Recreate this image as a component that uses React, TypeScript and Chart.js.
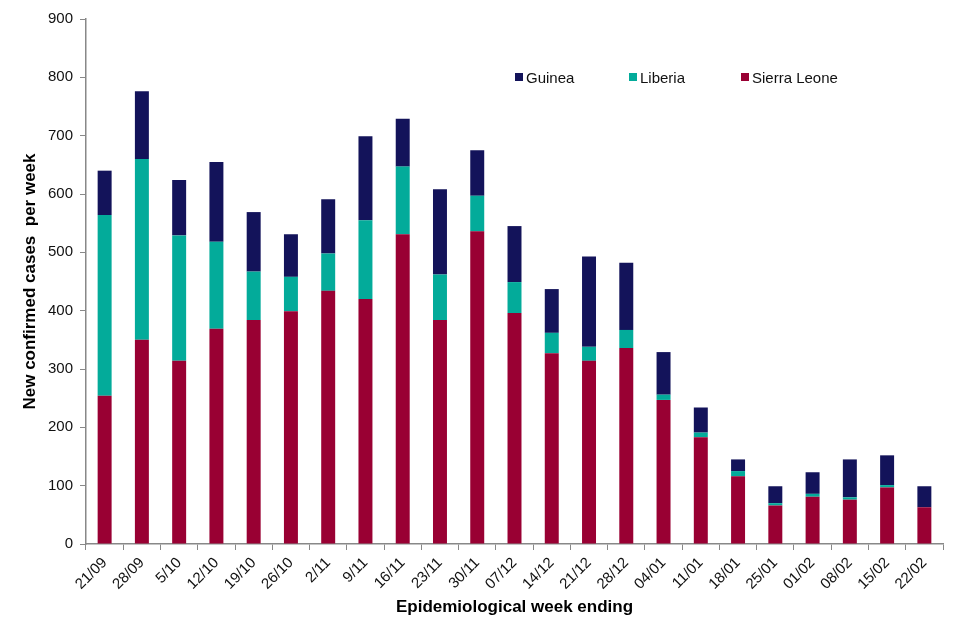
import React, { useEffect, useRef } from "react";
import { Chart, registerables } from "chart.js";

Chart.register(...registerables);

const weeks = [
  "21/09", "28/09", "5/10", "12/10", "19/10", "26/10", "2/11", "9/11", "16/11", "23/11", "30/11",
  "07/12", "14/12", "21/12", "28/12", "04/01", "11/01", "18/01", "25/01", "01/02", "08/02", "15/02", "22/02",
];
const sierraLeone = [254, 350, 314, 369, 384, 399, 434, 420, 531, 384, 536, 396, 327, 314, 336, 247, 183, 116, 66, 81, 76, 97, 63];
const liberia = [310, 310, 215, 149, 83, 59, 64, 135, 116, 78, 61, 53, 35, 24, 31, 9, 8, 9, 4, 5, 4, 4, 0];
const guinea = [76, 116, 95, 137, 102, 73, 93, 144, 82, 146, 78, 96, 75, 155, 115, 73, 43, 20, 29, 37, 65, 51, 36];
const yTicks = [0, 100, 200, 300, 400, 500, 600, 700, 800, 900];

const COL_SL = "#990033";
const COL_LIB = "#03AB9A";
const COL_GUI = "#13135A";
const FONT = "'Liberation Sans', Arial, sans-serif";

const legendItems = [
  { label: "Guinea", color: COL_GUI, left: 515 },
  { label: "Liberia", color: COL_LIB, left: 629 },
  { label: "Sierra Leone", color: COL_SL, left: 741 },
];

export default function App() {
  const ref = useRef<HTMLCanvasElement>(null);
  useEffect(() => {
    if (!ref.current) return;
    const bp = 0.375;
    const chart = new Chart(ref.current, {
      type: "bar",
      data: {
        labels: weeks,
        datasets: [
          { label: "Sierra Leone", data: sierraLeone, backgroundColor: COL_SL, barPercentage: bp, categoryPercentage: 1 },
          { label: "Liberia", data: liberia, backgroundColor: COL_LIB, barPercentage: bp, categoryPercentage: 1 },
          { label: "Guinea", data: guinea, backgroundColor: COL_GUI, barPercentage: bp, categoryPercentage: 1 },
        ],
      },
      options: {
        animation: false,
        responsive: false,
        maintainAspectRatio: false,
        layout: { padding: { top: 19, right: 17, left: 0, bottom: 22 } },
        plugins: { legend: { display: false }, tooltip: { enabled: false } },
        scales: {
          x: {
            stacked: true,
            afterFit: (s: any) => { s.height = 74; },
            grid: { drawOnChartArea: false, drawTicks: true, tickLength: 6, color: "#888" },
            border: { display: true, color: "#888", width: 1.5 },
            ticks: {
              maxRotation: 45, minRotation: 45, autoSkip: false, padding: 4,
              color: "#111", font: { family: FONT, size: 15 },
            },
            title: {
              display: true, text: "Epidemiological week ending", color: "#000",
              font: { family: FONT, size: 17, weight: "bold" }, padding: { top: 0, bottom: 0 },
            },
          },
          y: {
            stacked: true,
            min: 0, max: 900,
            afterFit: (s: any) => { s.width = 86; },
            afterBuildTicks: (s: any) => { s.ticks = yTicks.map((v) => ({ value: v })); },
            grid: { drawOnChartArea: false, drawTicks: true, tickLength: 6, color: "#888" },
            border: { display: true, color: "#888", width: 1.5 },
            ticks: { padding: 7, color: "#111", font: { family: FONT, size: 15 } },
            title: {
              display: true, text: "New confirmed cases  per week", color: "#000",
              font: { family: FONT, size: 17, weight: "bold" }, padding: { top: 20, bottom: 0 },
            },
          },
        },
      },
    });
    return () => chart.destroy();
  }, []);

  return (
    <div style={{ position: "fixed", left: 0, top: 0, width: 960, height: 640, background: "#fff" }}>
      <canvas ref={ref} width={960} height={640} style={{ width: 960, height: 640, display: "block" }} />
      {legendItems.map((it) => (
        <div
          key={it.label}
          style={{
            position: "absolute", left: it.left, top: 68, height: 18, display: "flex", alignItems: "center",
            fontFamily: FONT, fontSize: 15, color: "#111", whiteSpace: "nowrap",
          }}
        >
          <span style={{ display: "inline-block", width: 8, height: 8, background: it.color, marginRight: 3 }} />
          {it.label}
        </div>
      ))}
    </div>
  );
}
